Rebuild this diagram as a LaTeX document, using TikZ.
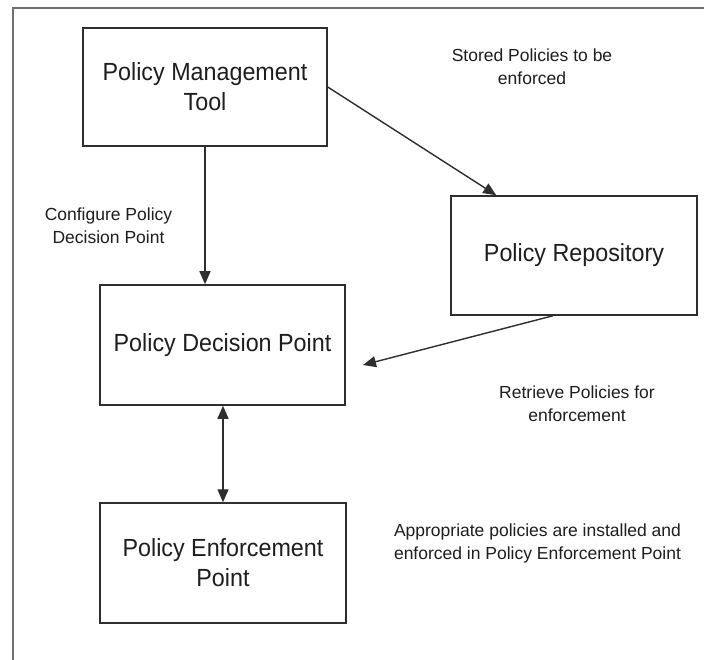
\documentclass[tikz,border=0pt]{standalone}
\usepackage{fontspec}
\setmainfont{Liberation Sans}
\newfontfamily\boxfont{Liberation Sans}[FakeStretch=0.94]
\usetikzlibrary{arrows.meta}
\definecolor{inkline}{HTML}{2E2E2E}
\definecolor{inktext}{HTML}{1E1E1E}
\definecolor{framegray}{HTML}{707070}
\begin{document}
\begin{tikzpicture}[x=1pt,y=-1pt,
  box/.style={draw=inkline, line width=1.5pt, fill=white, inner sep=0pt,
    minimum width=#1, minimum height=119pt, align=center, text=inktext,
    font=\boxfont\fontsize{24.8}{30}\selectfont},
  note/.style={align=center, text=inktext, inner sep=0pt,
    font=\fontsize{17.5}{23}\selectfont},
  flow/.style={draw=inkline, line width=1.4pt,
    -{Triangle[length=13pt,width=11pt]}},
  both/.style={draw=inkline, line width=1.4pt,
    {Triangle[length=13pt,width=11pt]}-{Triangle[length=13pt,width=11pt]}}]
  \useasboundingbox (0,0) rectangle (704,660);
  \fill[white] (0,0) rectangle (704,660);
  % outer frame: top and left edges only
  \draw[framegray, line width=2.6pt] (13,660) -- (13,8) -- (704,8);

  % boxes
  \node[box=244pt, minimum height=118pt] (pmt) at (205,87) {Policy Management\\Tool};
  \node[box=246pt] (pr)  at (574,255.5) {Policy Repository};
  \node[box=245pt, minimum height=120pt] (pdp) at (222.5,345) {Policy Decision Point};
  \node[box=246pt, minimum height=120pt] (pep) at (223,563) {Policy Enforcement\\Point};

  % labels
  \node[note] (lstore) at (532,67) {Stored Policies to be\\enforced};
  \node[note] (lconf)  at (108.5,226) {Configure Policy\\Decision Point};
  \node[note] (lret)   at (577,404) {Retrieve Policies for\\enforcement};
  \node[note] (lapp)   at (537.5,543) {Appropriate policies are installed and\\enforced in Policy Enforcement Point};

  % connector end points
  \coordinate (prin)  at ([xshift=46pt]pr.north west);
  \coordinate (prout) at ([xshift=-21pt]pr.south);
  \coordinate (pdpin) at (363,365);

  % connectors
  \draw[flow] (pmt.south) -- (pmt.south |- pdp.north);
  \draw[flow] (pmt.east) -- (prin);
  \draw[flow] (prout) -- (pdpin);
  \draw[both] (pdp.south -| pep.north) -- (pep.north);
\end{tikzpicture}
\end{document}
